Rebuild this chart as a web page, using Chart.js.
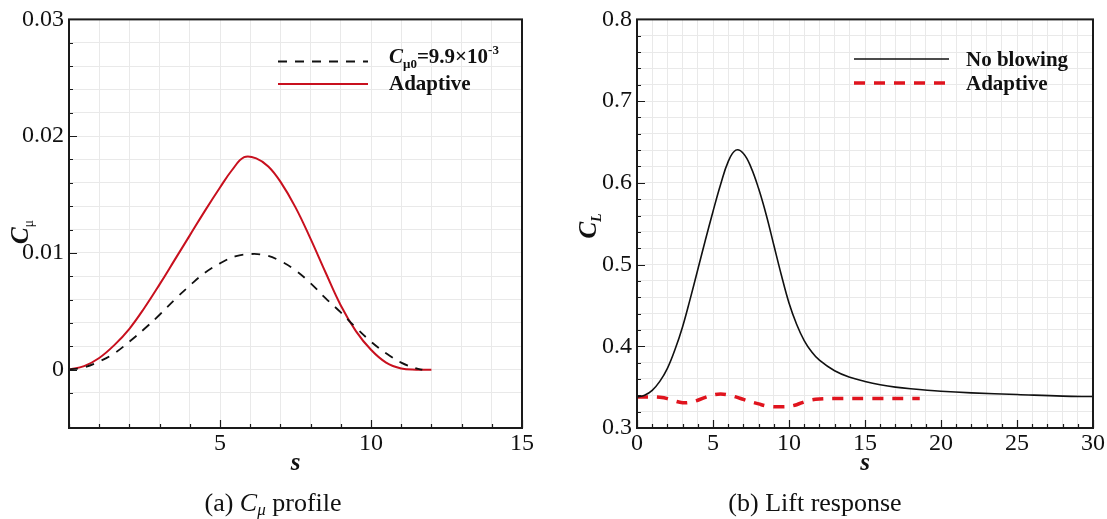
<!DOCTYPE html>
<html>
<head>
<meta charset="utf-8">
<script src="https://cdn.jsdelivr.net/npm/chart.js@4.4.0/dist/chart.umd.min.js"></script>
<style>
  body { margin: 0; background: #fff; }
  #wrap { position: relative; width: 1107px; height: 519px; font-family: "Liberation Serif", "Times New Roman", serif; }
  .panel { position: absolute; top: 0; height: 519px; }
  #pa { left: 0; width: 560px; }
  #pb { left: 560px; width: 547px; }
  .cap { position: absolute; top: 488px; font-size: 26px; line-height: 30px; white-space: nowrap; transform: translateX(-50%); color: #111; }
  .cap sub { font-size: 17px; vertical-align: -0.25em; line-height: 0; }
</style>
</head>
<body>
<div id="wrap">
  <div class="panel" id="pa"><canvas id="chartA"></canvas></div>
  <div class="panel" id="pb"><canvas id="chartB"></canvas></div>
  <div class="cap" style="left:273px">(a) <i>C<sub>μ</sub></i> profile</div>
  <div class="cap" style="left:815px">(b) Lift response</div>
</div>
<script>
// (a) C_mu profile
const sConst = [0, 0.5, 1, 1.5, 2, 2.5, 3, 3.5, 4, 4.5, 5, 5.5, 6, 6.5, 7, 7.5, 8, 8.5, 9, 9.5, 10, 10.5, 11, 11.5, 11.7];
const cmuConst = [0, 0.0002, 0.0007, 0.0014, 0.0024, 0.0035, 0.0047, 0.0060, 0.0072, 0.0083, 0.0091, 0.0097, 0.0099, 0.0098, 0.0093, 0.0085, 0.0074, 0.0061, 0.0049, 0.0036, 0.0024, 0.0014, 0.0006, 0.0001, 0];
const sAdaptA = [0, 0.5, 1, 1.5, 2, 2.5, 3, 3.5, 4, 4.5, 5, 5.4, 5.8, 6.2, 6.6, 7, 7.5, 8, 8.5, 9, 9.5, 10, 10.5, 11, 11.5, 12];
const cmuAdapt = [0, 0.0003, 0.0010, 0.0021, 0.0035, 0.0053, 0.0073, 0.0094, 0.0115, 0.0136, 0.0156, 0.0171, 0.0182, 0.0181, 0.0174, 0.0161, 0.0139, 0.0112, 0.0083, 0.0055, 0.0033, 0.0017, 0.0006, 0.0001, 0, 0];
const xLabelsA = ['5', '10', '15'];
const yLabelsA = ['0', '0.01', '0.02', '0.03'];

// (b) lift response
const sLift = [0, 0.5, 1, 1.5, 2, 2.5, 3, 3.5, 4, 4.5, 5, 5.5, 6, 6.5, 7, 7.5, 8, 8.5, 9, 9.5, 10, 10.5, 11, 11.5, 12, 13, 14, 15, 16, 17, 18, 20, 22, 25, 28, 30];
const clNoBlowing = [0.338, 0.340, 0.346, 0.357, 0.373, 0.396, 0.424, 0.458, 0.494, 0.530, 0.565, 0.598, 0.626, 0.640, 0.636, 0.619, 0.593, 0.561, 0.524, 0.487, 0.453, 0.427, 0.407, 0.393, 0.383, 0.370, 0.362, 0.357, 0.353, 0.350, 0.348, 0.345, 0.343, 0.341, 0.339, 0.3385];
const sAdaptB = [0, 1, 1.5, 2, 2.5, 3, 3.5, 4, 4.5, 5, 5.5, 6, 6.5, 7, 7.5, 8, 8.5, 9, 9.5, 10, 10.5, 11, 11.5, 12, 13, 15, 18.6];
const clAdapt = [0.338, 0.338, 0.3375, 0.336, 0.333, 0.331, 0.3315, 0.334, 0.3375, 0.3405, 0.3415, 0.3405, 0.338, 0.335, 0.332, 0.3295, 0.327, 0.326, 0.326, 0.3265, 0.3285, 0.332, 0.3345, 0.3355, 0.336, 0.336, 0.336];
const xLabelsB = ['0', '5', '10', '15', '20', '25', '30'];
const yLabelsB = ['0.3', '0.4', '0.5', '0.6', '0.7', '0.8'];

const FONT = '"Liberation Serif", "Times New Roman", serif';
const pts = (xs, ys) => xs.map((x, i) => ({ x: x, y: ys[i] }));
const pick = (labels) => (v) => labels.find(l => Math.abs(parseFloat(l) - v) < 1e-9) || '';

function fontOf(p) {
    return (p.italic ? 'italic ' : '') + (p.bold ? 'bold ' : '') + p.size + 'px ' + FONT;
}
function richWidth(ctx, parts) {
    let w = 0;
    parts.forEach(p => { ctx.font = fontOf(p); w += ctx.measureText(p.text).width; });
    return w;
}
function drawRich(ctx, parts, x, y) {
    parts.forEach(p => {
        ctx.font = fontOf(p);
        ctx.fillText(p.text, x, y + (p.dy || 0));
        x += ctx.measureText(p.text).width;
    });
}

// frame, inward ticks, legend and axis titles
const framePlugin = {
    id: 'frame',
    afterDatasetsDraw(chart, args, opts) {
        const { ctx, chartArea: a, scales: { x, y } } = chart;
        ctx.save();
        ctx.strokeStyle = '#1a1a1a';
        ctx.lineWidth = 1.2;
        ctx.beginPath();
        x.ticks.forEach(t => {
            const px = Math.round(x.getPixelForValue(t.value)) + 0.5;
            const len = t.label ? 8 : 4;
            ctx.moveTo(px, a.bottom);
            ctx.lineTo(px, a.bottom - len);
        });
        y.ticks.forEach(t => {
            const py = Math.round(y.getPixelForValue(t.value)) + 0.5;
            const len = t.label ? 8 : 4;
            ctx.moveTo(a.left, py);
            ctx.lineTo(a.left + len, py);
        });
        ctx.stroke();
        ctx.lineWidth = 2;
        ctx.strokeRect(a.left, a.top, a.right - a.left, a.bottom - a.top);

        // legend
        ctx.fillStyle = '#111';
        ctx.textBaseline = 'alphabetic';
        ctx.textAlign = 'left';
        opts.legend.forEach(item => {
            const ds = chart.data.datasets[item.ds];
            ctx.save();
            ctx.strokeStyle = ds.borderColor;
            ctx.lineWidth = ds.borderWidth;
            ctx.setLineDash(ds.borderDash || []);
            ctx.beginPath();
            ctx.moveTo(item.x1, item.y);
            ctx.lineTo(item.x2, item.y);
            ctx.stroke();
            ctx.restore();
            drawRich(ctx, item.parts, item.tx, item.y + item.dy);
        });

        // x title
        const xt = opts.xTitle;
        const xw = richWidth(ctx, xt.parts);
        drawRich(ctx, xt.parts, (a.left + a.right) / 2 - xw / 2, xt.y);

        // y title, rotated
        const yt = opts.yTitle;
        const yw = richWidth(ctx, yt.parts);
        ctx.translate(yt.x, yt.cy);
        ctx.rotate(-Math.PI / 2);
        drawRich(ctx, yt.parts, -yw / 2, 8);
        ctx.restore();
    }
};

function makeOptions(cfg) {
    return {
        responsive: true,
        maintainAspectRatio: false,
        animation: false,
        layout: { padding: cfg.padding },
        plugins: { legend: { display: false }, tooltip: { enabled: false }, frame: cfg.frame },
        elements: { point: { radius: 0 }, line: { tension: 0.4 } },
        scales: {
            x: {
                type: 'linear', min: cfg.xMin, max: cfg.xMax,
                afterFit: s => { s.height = 30; },
                grid: { color: '#e9e9e9', lineWidth: 1, drawTicks: false },
                border: { display: false },
                ticks: { stepSize: cfg.xStep, autoSkip: false, maxRotation: 0, padding: 1, color: '#111',
                         font: { family: FONT, size: 24 }, callback: pick(cfg.xLabels) }
            },
            y: {
                type: 'linear', min: cfg.yMin, max: cfg.yMax,
                afterFit: s => { s.width = cfg.yWidth; },
                grid: { color: '#e9e9e9', lineWidth: 1, drawTicks: false },
                border: { display: false },
                ticks: { stepSize: cfg.yStep, autoSkip: false, padding: 5, color: '#111',
                         font: { family: FONT, size: 24 }, callback: pick(cfg.yLabels) }
            }
        }
    };
}

new Chart(document.getElementById('chartA'), {
    type: 'scatter',
    data: {
        datasets: [
            { label: 'Cmu0=9.9e-3', data: pts(sConst, cmuConst), showLine: true, borderColor: '#111', borderWidth: 1.8, borderDash: [9, 8] },
            { label: 'Adaptive', data: pts(sAdaptA, cmuAdapt), showLine: true, borderColor: '#c8101e', borderWidth: 2 }
        ]
    },
    options: makeOptions({
        padding: { left: 0, top: 17, right: 38, bottom: 61 },
        xMin: 0, xMax: 15, xStep: 1, xLabels: xLabelsA,
        yMin: -0.005, yMax: 0.03, yStep: 0.002, yLabels: yLabelsA, yWidth: 69,
        frame: {
            legend: [
                { ds: 0, x1: 278, x2: 368, y: 61.5, tx: 389, dy: 1, parts: [
                    { text: 'C', size: 21, bold: true, italic: true },
                    { text: 'μ0', size: 13, bold: true, dy: 5 },
                    { text: '=9.9×10', size: 21, bold: true },
                    { text: '-3', size: 13, bold: true, dy: -9 }
                ] },
                { ds: 1, x1: 278, x2: 368, y: 84, tx: 389, dy: 6, parts: [{ text: 'Adaptive', size: 21, bold: true }] }
            ],
            xTitle: { y: 470, parts: [{ text: 's', size: 25, bold: true, italic: true }] },
            yTitle: { x: 20, cy: 232, parts: [
                { text: 'C', size: 25, bold: true, italic: true },
                { text: 'μ', size: 14, dy: 5 }
            ] }
        }
    }),
    plugins: [framePlugin]
});

new Chart(document.getElementById('chartB'), {
    type: 'scatter',
    data: {
        datasets: [
            { label: 'No blowing', data: pts(sLift, clNoBlowing), showLine: true, borderColor: '#111', borderWidth: 1.6 },
            { label: 'Adaptive', data: pts(sAdaptB, clAdapt), showLine: true, borderColor: '#e0141e', borderWidth: 3.5, borderDash: [11, 9] }
        ]
    },
    options: makeOptions({
        padding: { left: 0, top: 17, right: 14, bottom: 61 },
        xMin: 0, xMax: 30, xStep: 1, xLabels: xLabelsB,
        yMin: 0.3, yMax: 0.8, yStep: 0.02, yLabels: yLabelsB, yWidth: 77,
        frame: {
            legend: [
                { ds: 0, x1: 294, x2: 389, y: 59, tx: 406, dy: 7, parts: [{ text: 'No blowing', size: 21, bold: true }] },
                { ds: 1, x1: 294, x2: 389, y: 83, tx: 406, dy: 7, parts: [{ text: 'Adaptive', size: 21, bold: true }] }
            ],
            xTitle: { y: 470, parts: [{ text: 's', size: 25, bold: true, italic: true }] },
            yTitle: { x: 28, cy: 226, parts: [
                { text: 'C', size: 25, bold: true, italic: true },
                { text: 'L', size: 14, bold: true, italic: true, dy: 5 }
            ] }
        }
    }),
    plugins: [framePlugin]
});
</script>
</body>
</html>
